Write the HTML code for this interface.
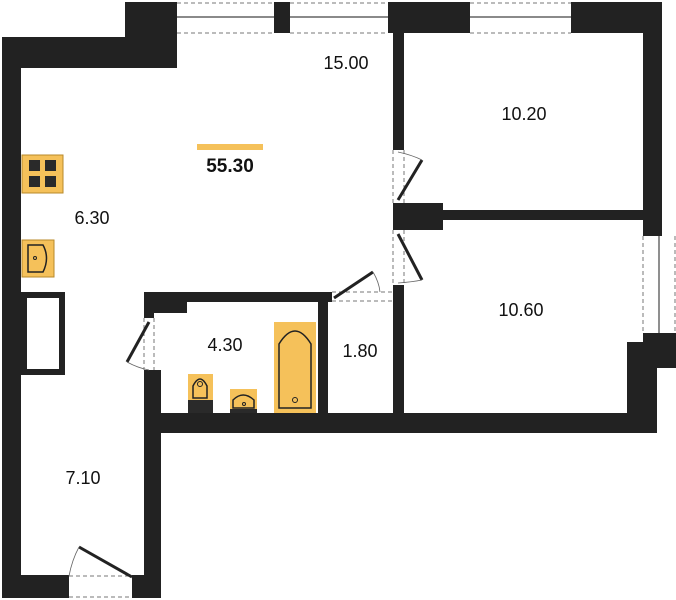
<!DOCTYPE html>
<html><head><meta charset="utf-8"><style>
html,body{margin:0;padding:0;background:#fff}
svg{display:block}
text{font-family:"Liberation Sans",sans-serif;font-size:18px;fill:#111}
</style></head><body>
<svg width="676" height="600" viewBox="0 0 676 600" xmlns="http://www.w3.org/2000/svg">
<g fill="#222">
<!-- top left -->
<rect x="2" y="37" width="154" height="31"/>
<rect x="125" y="2" width="52" height="66"/>
<rect x="2" y="37" width="19" height="561"/>
<rect x="2" y="575" width="67" height="23"/>
<rect x="274" y="2" width="16" height="31"/>
<rect x="388" y="2" width="82" height="31"/>
<rect x="571" y="2" width="91" height="31"/>
<rect x="643" y="2" width="19" height="234"/>
<!-- partitions -->
<rect x="393" y="33" width="11" height="117"/>
<rect x="393" y="203" width="50" height="27"/>
<rect x="443" y="210" width="200" height="10"/>
<rect x="393" y="285" width="11" height="128"/>
<!-- right lower -->
<rect x="643" y="333" width="33" height="35"/>
<rect x="627" y="342" width="30" height="91"/>
<rect x="144" y="413" width="513" height="20"/>
<!-- bathroom -->
<rect x="144" y="292" width="188" height="10"/>
<rect x="144" y="292" width="43" height="21"/>
<rect x="144" y="292" width="10" height="26"/>
<rect x="144" y="370" width="17" height="228"/>
<rect x="318" y="292" width="10" height="121"/>
<rect x="132" y="575" width="29" height="23"/>
</g>
<!-- windows -->
<g stroke="#777" stroke-width="1" fill="none" stroke-dasharray="4,3">
<line x1="177" y1="3" x2="274" y2="3"/><line x1="177" y1="33" x2="274" y2="33"/>
<line x1="290" y1="3" x2="388" y2="3"/><line x1="290" y1="33" x2="388" y2="33"/>
<line x1="470" y1="3" x2="571" y2="3"/><line x1="470" y1="33" x2="571" y2="33"/>
<line x1="643" y1="236" x2="643" y2="333"/><line x1="675" y1="236" x2="675" y2="333"/>
<line x1="393" y1="150" x2="393" y2="203"/><line x1="404" y1="150" x2="404" y2="203"/>
<line x1="393" y1="230" x2="393" y2="285"/><line x1="404" y1="230" x2="404" y2="285"/>
<line x1="332" y1="292" x2="393" y2="292"/><line x1="332" y1="301" x2="393" y2="301"/>
<line x1="144" y1="318" x2="144" y2="370"/><line x1="154" y1="318" x2="154" y2="370"/>
<line x1="69" y1="576" x2="132" y2="576"/><line x1="69" y1="597" x2="132" y2="597"/>
</g>
<g stroke="#444" stroke-width="1.2">
<line x1="177" y1="17" x2="274" y2="17"/><line x1="290" y1="17" x2="388" y2="17"/>
<line x1="470" y1="17" x2="571" y2="17"/><line x1="659" y1="236" x2="659" y2="333"/>
</g>
<!-- doors -->
<g stroke="#222" stroke-width="3" fill="none">
<line x1="398" y1="200" x2="422" y2="160"/>
<line x1="398" y1="234" x2="422" y2="280"/>
<line x1="334" y1="298" x2="373" y2="272"/>
<line x1="149" y1="322" x2="127" y2="362"/>
<line x1="132" y1="577" x2="79" y2="547"/>
</g>
<g stroke="#666" stroke-width="0.8" fill="none">
<path d="M398 152 Q412 155 422 160"/>
<path d="M398 283 Q412 282 422 280"/>
<path d="M373 272 Q379 282 380 292"/>
<path d="M127 362 Q138 368 149 370"/>
<path d="M79 547 Q72 560 69 576"/>
</g>
<!-- fixtures -->
<rect x="22" y="155" width="41" height="38" fill="#f5c15a" stroke="#b8892a" stroke-width="1"/>
<g fill="#2a2a2a"><rect x="29" y="160" width="11" height="11"/><rect x="45" y="160" width="11" height="11"/><rect x="29" y="176" width="11" height="11"/><rect x="45" y="176" width="11" height="11"/></g>
<rect x="22" y="240" width="32" height="37" fill="#f5c15a" stroke="#b8892a"/>
<path d="M28 245 H43 Q50 258 43 272 H28 Z" fill="none" stroke="#222" stroke-width="1.5"/>
<circle cx="35" cy="258" r="1.5" fill="none" stroke="#222"/>
<rect x="24" y="295" width="38" height="77" fill="#fff" stroke="#222" stroke-width="6"/>
<rect x="188" y="374" width="25" height="39" fill="#f5c15a"/>
<rect x="188" y="400" width="25" height="13" fill="#2a2a2a"/>
<path d="M193 398 V386 Q200 372 207 386 V398 Z" fill="none" stroke="#222" stroke-width="1.5"/>
<circle cx="200" cy="384" r="2.5" fill="none" stroke="#222"/>
<rect x="230" y="389" width="27" height="24" fill="#f5c15a"/>
<rect x="230" y="409" width="27" height="4" fill="#2a2a2a"/>
<path d="M233 408 V400 Q243 390 254 400 V408 Z" fill="none" stroke="#222" stroke-width="1.5"/>
<circle cx="244" cy="404" r="1.5" fill="none" stroke="#222"/>
<rect x="274" y="322" width="42" height="91" fill="#f5c15a"/>
<path d="M279 408 V344 Q295 318 311 344 V408 Z" fill="none" stroke="#222" stroke-width="1.5"/>
<circle cx="295" cy="400" r="2.5" fill="none" stroke="#222"/>
<!-- labels -->
<rect x="197" y="144" width="66" height="6" fill="#f5c15a"/>
<text x="230" y="172" text-anchor="middle" style="font-weight:bold;font-size:19px">55.30</text>
<text x="346" y="69" text-anchor="middle">15.00</text>
<text x="524" y="120" text-anchor="middle">10.20</text>
<text x="92" y="224" text-anchor="middle">6.30</text>
<text x="521" y="316" text-anchor="middle">10.60</text>
<text x="225" y="351" text-anchor="middle">4.30</text>
<text x="360" y="357" text-anchor="middle">1.80</text>
<text x="83" y="484" text-anchor="middle">7.10</text>
</svg>
</body></html>
